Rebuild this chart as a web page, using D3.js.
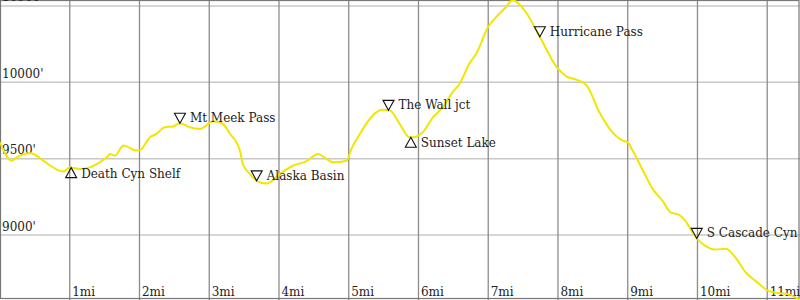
<!DOCTYPE html>
<html>
<head>
<meta charset="utf-8">
<script src="https://cdn.jsdelivr.net/npm/d3@7"></script>
<style>
  html, body { margin: 0; padding: 0; background: #fff; }
  svg { display: block; }
</style>
</head>
<body>
<div id="chart"></div>
<script>
// trail profile: distance in miles, elevation in feet
const miles = [
  0.00, 0.17, 0.24, 0.43, 0.50, 0.62, 0.91, 1.00, 1.15, 1.39, 1.53, 1.58, 1.65, 1.77, 1.96,
  2.01, 2.15, 2.24, 2.36, 2.48, 2.58, 2.72, 2.87, 3.06, 3.18, 3.30, 3.44, 3.48, 3.58, 3.68,
  3.82, 3.89, 4.01, 4.20, 4.39, 4.56, 4.66, 4.78, 4.97, 5.04, 5.16, 5.25, 5.40, 5.47, 5.59,
  5.73, 5.87, 5.92, 6.06, 6.21, 6.35, 6.49, 6.59, 6.73, 6.83, 7.00, 7.12, 7.26, 7.35, 7.43,
  7.55, 7.74, 7.98, 8.12, 8.26, 8.41, 8.60, 8.76, 8.93, 9.00, 9.07, 9.22, 9.36, 9.50, 9.62,
  9.72, 9.81, 9.98, 10.12, 10.24, 10.41, 10.51, 10.70, 10.84, 11.03, 11.17, 11.32, 11.46
]
const elevation = [
  9607, 9487, 9509, 9535, 9526, 9487, 9416, 9443, 9432, 9465, 9509, 9531, 9520, 9586, 9553,
  9557, 9640, 9662, 9706, 9711, 9732, 9706, 9695, 9745, 9732, 9662, 9553, 9467, 9401, 9355,
  9337, 9351, 9399, 9454, 9482, 9531, 9505, 9476, 9487, 9566, 9662, 9728, 9805, 9820, 9816,
  9728, 9640, 9640, 9673, 9772, 9837, 9936, 9991, 10123, 10189, 10364, 10430, 10495, 10539, 10518,
  10452, 10298, 10101, 10039, 10018, 9980, 9799, 9684, 9618, 9607, 9553, 9421, 9301, 9224, 9147,
  9136, 9103, 8982, 8928, 8906, 8910, 8873, 8752, 8697, 8632, 8620, 8610, 8577
]

// waypoints along the trail
const wpNames = ['Death Cyn Shelf', 'Mt Meek Pass', 'Alaska Basin', 'The Wall jct', 'Sunset Lake', 'Hurricane Pass', 'S Cascade Cyn']
const wpMiles = [1.02, 2.58, 3.68, 5.57, 5.89, 7.74, 9.99]
const wpUp = [true, false, false, false, true, false, false]

const mileTicks = [1, 2, 3, 4, 5, 6, 7, 8, 9, 10, 11]
const elevTicks = [9000, 9500, 10000, 10500]

const width = 800
const height = 300

const x = d3.scaleLinear().domain([0, 11.47]).range([0, width])
const y = d3.scaleLinear().domain([8588, 10539]).range([298, 0])

const profile = miles.map((m, i) => ({ m, e: elevation[i] }))
const bisect = d3.bisector(d => d.m).left

function elevAt(m) {
  const i = Math.max(1, Math.min(profile.length - 1, bisect(profile, m)))
  const a = profile[i - 1], b = profile[i]
  return a.e + (b.e - a.e) * (m - a.m) / (b.m - a.m)
}

const svg = d3.select('#chart')
  .append('svg')
  .attr('width', width)
  .attr('height', height)
  .style('font-family', '"DejaVu Serif", serif')
  .style('font-size', '12px')

// grid
svg.append('g')
  .selectAll('line')
  .data(elevTicks)
  .join('line')
  .attr('x1', 0)
  .attr('x2', width)
  .attr('y1', d => y(d))
  .attr('y2', d => y(d))
  .attr('stroke', '#c8c8c8')
  .attr('stroke-width', 1.5)

svg.append('g')
  .selectAll('line')
  .data(mileTicks)
  .join('line')
  .attr('x1', d => x(d))
  .attr('x2', d => x(d))
  .attr('y1', 0)
  .attr('y2', height)
  .attr('stroke', '#8c8c8c')
  .attr('stroke-width', 1.3)

// frame
svg.append('rect')
  .attr('x', 0.5)
  .attr('y', 0.5)
  .attr('width', width - 1.5)
  .attr('height', height - 2)
  .attr('fill', 'none')
  .attr('stroke', '#777')
  .attr('stroke-width', 1.2)

// tick labels
svg.append('g')
  .selectAll('text')
  .data(elevTicks)
  .join('text')
  .attr('x', 2)
  .attr('y', d => y(d) - 4.5)
  .attr('fill', '#222')
  .text(d => d + "'")

svg.append('g')
  .selectAll('text')
  .data(mileTicks)
  .join('text')
  .attr('x', d => x(d) + 2.5)
  .attr('y', 296)
  .attr('fill', '#222')
  .text(d => d + 'mi')

// the profile line
const line = d3.line()
  .x(d => x(d.m))
  .y(d => y(d.e))
  .curve(d3.curveMonotoneX)

svg.append('path')
  .datum(profile)
  .attr('d', line)
  .attr('fill', 'none')
  .attr('stroke', '#f2e600')
  .attr('stroke-width', 2)
  .attr('stroke-linejoin', 'round')

// waypoint markers
const wp = svg.append('g')
  .selectAll('g')
  .data(wpNames.map((name, i) => ({ name, m: wpMiles[i], up: wpUp[i] })))
  .join('g')
  .attr('transform', d => `translate(${x(d.m)},${y(elevAt(d.m))})`)

wp.append('path')
  .attr('d', d => d.up ? 'M0,0 L5.5,10 L-5.5,10 Z' : 'M0,0 L5.5,-10 L-5.5,-10 Z')
  .attr('fill', 'none')
  .attr('stroke', '#111')
  .attr('stroke-width', 1.1)

wp.append('text')
  .attr('x', 10)
  .attr('y', d => d.up ? 10 : -1)
  .attr('fill', '#222')
  .text(d => d.name)
</script>
</body>
</html>
